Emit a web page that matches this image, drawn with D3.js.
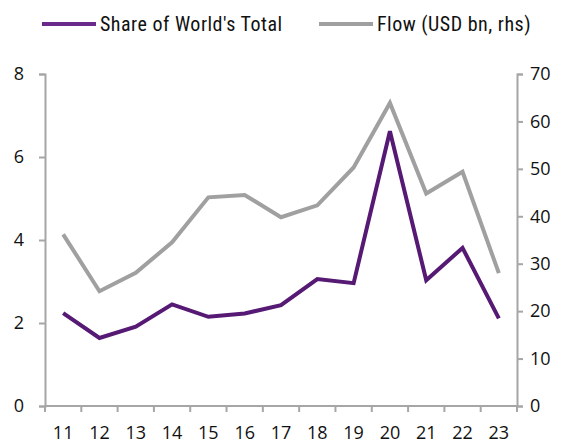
<!DOCTYPE html>
<html>
<meta charset="utf-8">
<style>
    body { margin: 0; background: #fff; }
    svg { display: block; }
</style>
<body>
<svg width="563" height="444"></svg>
<script src="https://d3js.org/d3.v7.min.js"></script>
<script>

    // years (20xx)
    let years = ["11", "12", "13", "14", "15", "16", "17", "18", "19", "20", "21", "22", "23"];
    // share of world's total, % (left axis)
    let share = [2.24, 1.64, 1.91, 2.45, 2.15, 2.23, 2.43, 3.06, 2.96, 6.62, 3.03, 3.81, 2.11];
    // flow, USD bn (right axis)
    let flow = [36.2, 24.2, 28.1, 34.5, 44.0, 44.5, 39.8, 42.3, 50.3, 63.9, 44.8, 49.4, 28.0];
    let leftTicks = [0, 2, 4, 6, 8];
    let rightTicks = [0, 10, 20, 30, 40, 50, 60, 70];
    let seriesNames = ["Share of World's Total", "Flow (USD bn, rhs)"];

    let svg = d3.select("svg"),
        margin = {top: 74, right: 46, bottom: 38, left: 45},
        width = +svg.attr("width") - margin.left - margin.right,
        height = +svg.attr("height") - margin.top - margin.bottom,
        g = svg.append("g").attr("transform", "translate(" + margin.left + "," + margin.top + ")");

    let purple = "#561a74",
        grey = "#a0a0a0",
        axisColor = "#a6a6a6",
        tickFont = "'Open Sans', sans-serif",
        legendFont = "'Liberation Sans Narrow', 'Roboto Condensed', Roboto, sans-serif";

    let x = d3.scaleBand().domain(years).range([0, width]);
    let yL = d3.scaleLinear().domain([0, 8]).range([height, 0]);
    let yR = d3.scaleLinear().domain([0, 70]).range([height, 0]);

    // x axis: ticks sit on the band edges
    let xAxis = g.append("g").attr("transform", "translate(0," + height + ")");
    xAxis.append("line")
        .attr("x1", 0).attr("x2", width)
        .attr("stroke", axisColor).attr("stroke-width", 2);
    xAxis.selectAll(".edge")
        .data(years.concat(["end"]))
        .enter().append("line")
        .attr("x1", function (d, i) { return i < years.length ? x(d) : width; })
        .attr("x2", function (d, i) { return i < years.length ? x(d) : width; })
        .attr("y1", 0).attr("y2", 6)
        .attr("stroke", axisColor).attr("stroke-width", 2);
    xAxis.selectAll("text")
        .data(years)
        .enter().append("text")
        .attr("x", function (d) { return x(d) + x.bandwidth() / 2; })
        .attr("y", 33)
        .attr("text-anchor", "middle")
        .attr("font-family", tickFont)
        .attr("font-size", 18)
        .attr("fill", "#111")
        .text(function (d) { return d; });

    // left axis
    let left = g.append("g")
        .call(d3.axisLeft(yL).tickValues(leftTicks).tickSize(6).tickPadding(15));
    left.select(".domain").attr("stroke", axisColor).attr("stroke-width", 2);
    left.selectAll(".tick line").attr("stroke", axisColor).attr("stroke-width", 2);
    left.selectAll(".tick text")
        .attr("font-family", tickFont).attr("font-size", 18).attr("fill", "#111");

    // right axis
    let right = g.append("g")
        .attr("transform", "translate(" + width + ",0)")
        .call(d3.axisRight(yR).tickValues(rightTicks).tickSize(6).tickPadding(7));
    right.select(".domain").attr("stroke", axisColor).attr("stroke-width", 2);
    right.selectAll(".tick line").attr("stroke", axisColor).attr("stroke-width", 2);
    right.selectAll(".tick text")
        .attr("font-family", tickFont).attr("font-size", 18).attr("fill", "#111");

    let cx = function (d, i) { return x(years[i]) + x.bandwidth() / 2; };

    g.append("path")
        .datum(flow)
        .attr("fill", "none")
        .attr("stroke", grey)
        .attr("stroke-width", 4)
        .attr("stroke-linejoin", "miter")
        .attr("d", d3.line().x(cx).y(function (d) { return yR(d); }));

    g.append("path")
        .datum(share)
        .attr("fill", "none")
        .attr("stroke", purple)
        .attr("stroke-width", 4)
        .attr("stroke-linejoin", "miter")
        .attr("d", d3.line().x(cx).y(function (d) { return yL(d); }));

    // legend
    let legendX = [42, 319];
    let legend = svg.append("g")
        .selectAll("g")
        .data(seriesNames)
        .enter().append("g")
        .attr("transform", function (d, i) { return "translate(" + legendX[i] + ",24)"; });

    legend.append("line")
        .attr("x1", 0).attr("x2", 54)
        .attr("stroke", function (d, i) { return i === 0 ? "#6a2a8c" : grey; })
        .attr("stroke-width", 4);

    legend.append("text")
        .attr("x", 58)
        .attr("dy", "0.35em")
        .attr("font-family", legendFont)
        .attr("font-size", 20)
        .attr("letter-spacing", 0.5)
        .attr("fill", "#111")
        .text(function (d) { return d; });

</script>
</body>
</html>
